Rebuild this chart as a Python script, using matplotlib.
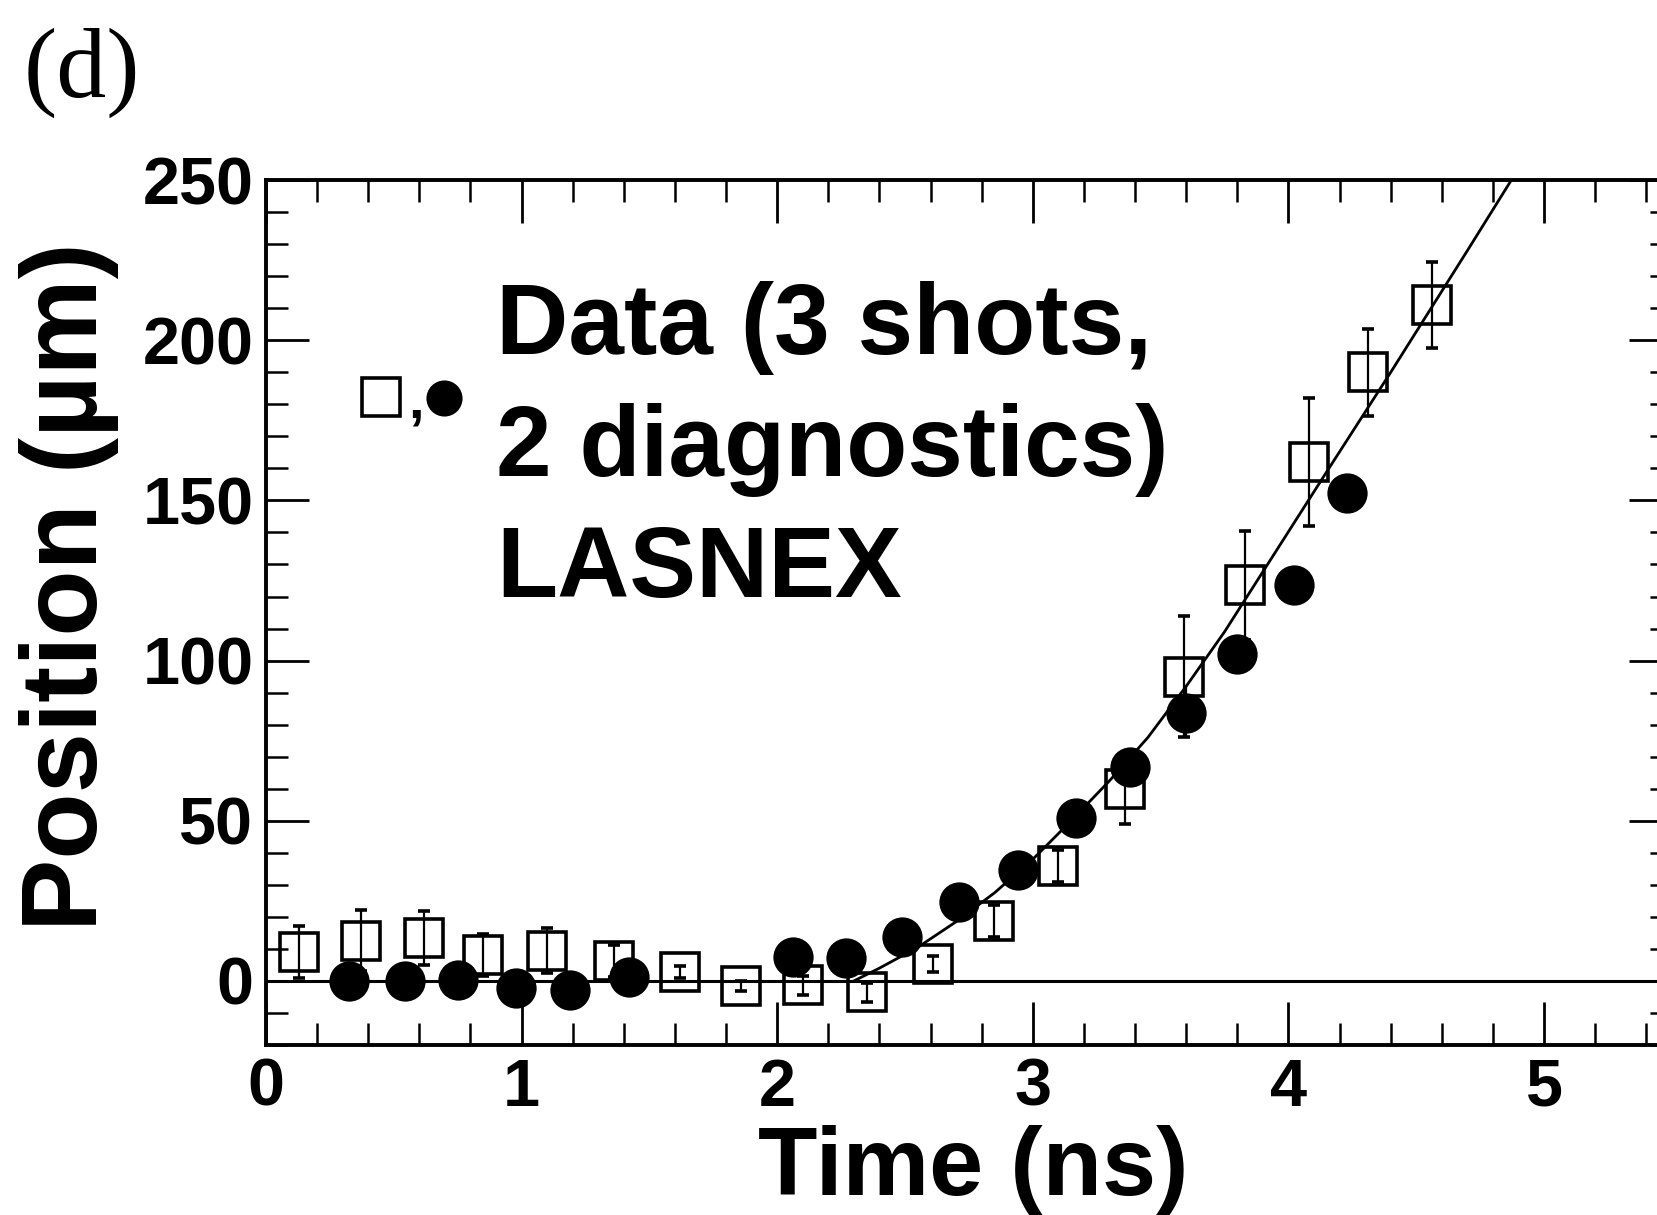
#!/usr/bin/env python3
"""Panel (d): foil position vs time, two diagnostics over three shots,
compared with the LASNEX simulation. Writes out.png."""
import matplotlib
matplotlib.use("Agg")
import matplotlib.pyplot as plt
from matplotlib.ticker import MultipleLocator

OUT = "out.png"

# open squares: diagnostic 1 (with error bars)
sq_t = [0.13, 0.37, 0.62, 0.85, 1.10, 1.36, 1.62, 1.86, 2.10, 2.35,
        2.61, 2.85, 3.10, 3.36, 3.59, 3.83, 4.08, 4.31, 4.56]
sq_pos = [9.0, 12.5, 13.4, 8.1, 9.4, 6.2, 2.8, -1.6, -1.3, -3.5,
          5.3, 18.7, 36.0, 60.0, 95.0, 123.5, 162.0, 190.0, 211.0]
sq_err = [8.0, 9.5, 8.5, 6.5, 7.0, 5.0, 2.0, 1.5, 3.0, 3.0,
          2.5, 5.0, 5.0, 11.0, 19.0, 17.0, 20.0, 13.5, 13.5]

# filled circles: diagnostic 2
dot_t = [0.325, 0.545, 0.75, 0.98, 1.19, 1.42, 2.06, 2.27, 2.49, 2.71,
         2.94, 3.17, 3.38, 3.60, 3.80, 4.02, 4.23]
dot_pos = [0.0, 0.0, 0.3, -2.2, -2.8, 1.3, 7.5, 7.2, 13.7, 24.7,
           34.6, 51.0, 66.8, 83.7, 102.0, 123.6, 152.3]
dot_err = [0, 0, 0, 0, 0, 0, 0, 0, 0, 0,
           0, 0, 0, 8.0, 0, 0, 0]

# LASNEX trajectory
sim_t = [2.30, 2.40, 2.55, 2.70, 2.85, 3.00, 3.15, 3.30, 3.45, 3.60,
         3.75, 3.95, 4.15, 4.40, 4.70, 4.95]
sim_pos = [0, 4, 10.5, 18.5, 27.5, 38, 50, 62.5, 76, 92,
           109, 134, 159, 190, 228, 260]

x_ticks = [0, 1, 2, 3, 4, 5]
y_ticks = [0, 50, 100, 150, 200, 250]
note_lines = ["Data (3 shots,", "2 diagnostics)", "LASNEX"]
note_base = [195.7, 157.6, 119.9]


def main():
    plt.rcParams["font.family"] = ["Liberation Sans", "DejaVu Sans"]
    plt.rcParams["font.weight"] = "bold"

    fig = plt.figure(figsize=(16.58, 12.15), dpi=100)
    ax = fig.add_axes([0.1604, 0.1399, 0.848, 0.7119])

    ax.axhline(0, color="k", lw=2.2, zorder=1)
    ax.plot(sim_t, sim_pos, "k-", lw=2.0, zorder=1)
    ax.errorbar(sq_t, sq_pos, yerr=sq_err, fmt="s", ms=28, mfc="none",
                mec="k", mew=2.6, ecolor="k", elinewidth=1.6, capsize=4,
                capthick=1.8, zorder=3)
    ax.errorbar(dot_t, dot_pos, yerr=dot_err, fmt="o", ms=29, color="k",
                mew=0, elinewidth=1.6, capsize=4, capthick=1.8, zorder=4)

    ax.set_xlim(0, 5.5)
    ax.set_ylim(-20, 250)
    ax.set_xticks(x_ticks)
    ax.set_yticks(y_ticks)
    ax.xaxis.set_minor_locator(MultipleLocator(0.2))
    ax.yaxis.set_minor_locator(MultipleLocator(10))
    ax.tick_params(which="both", direction="in", top=True, right=True,
                   labelsize=48, pad=9)
    ax.tick_params(which="major", length=31, width=2.0)
    ax.tick_params(which="minor", length=16, width=1.8)
    for s in ax.spines.values():
        s.set_linewidth(2.8)

    # symbol key and annotation
    ax.plot(0.0818, 0.749, "s", ms=28, mfc="none", mec="k", mew=2.6,
            transform=ax.transAxes, clip_on=False)
    ax.plot(0.1266, 0.748, "o", ms=26, color="k", mew=0,
            transform=ax.transAxes, clip_on=False)
    ax.text(0.107, 0.725, ",", transform=ax.transAxes, fontsize=40,
            ha="center", va="baseline")
    for line, yb in zip(note_lines, note_base):
        ax.text(0.90, yb, line, fontsize=72, va="baseline", ha="left")

    fig.text(0.587, 0.0165, "Time (ns)", fontsize=70, ha="center",
             va="baseline")
    fig.text(0.0416, 0.517, "Position (µm)", fontsize=78, rotation=90,
             ha="center", va="center")
    fig.text(0.014, 0.920, "(d)", fontsize=72, fontweight="normal",
             family="Liberation Serif", ha="left", va="baseline")

    fig.savefig(OUT, dpi=100)
    print("wrote", OUT)


if __name__ == "__main__":
    main()
